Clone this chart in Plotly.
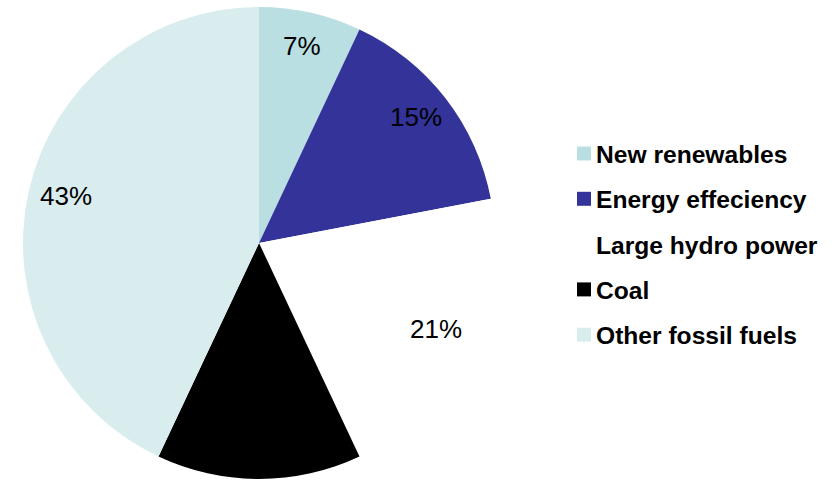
import numpy as np
import plotly.graph_objects as go

# ---- data ----
labels = ["New renewables", "Energy effeciency", "Large hydro power", "Coal", "Other fossil fuels"]
values = [7, 15, 21, 14, 43]
colors = ["#B9DFE2", "#333399", "#FFFFFF", "#000000", "#D9EDEF"]

W, H = 838, 482
cx, cy, r = 259, 243, 236  # pie centre / radius in pixels

fig = go.Figure(go.Pie(
    labels=labels, values=values, sort=False, direction="clockwise", rotation=0,
    marker=dict(colors=colors, line=dict(width=0)),
    textinfo="none", hoverinfo="label+percent", showlegend=False,
    domain=dict(x=[(cx - r) / W, (cx + r) / W], y=[(H - cy - r) / H, (H - cy + r) / H]),
))

# percentage labels placed along each slice bisector
vals = np.array(values, dtype=float)
fr = vals / vals.sum()
mid = (np.cumsum(fr) - fr / 2) * 2 * np.pi
annotations = []
for f, a in zip(fr, mid):
    px = cx + 0.84 * r * np.sin(a)
    py = cy - 0.84 * r * np.cos(a) - 4
    annotations.append(dict(
        x=px / W, y=1 - py / H, xref="paper", yref="paper", showarrow=False,
        text=f"{round(f * 100):.0f}%", xanchor="center", yanchor="middle",
        font=dict(family="Arial, Liberation Sans", size=26, color="#000000"),
    ))

# legend (drawn manually to match spacing)
shapes = []
leg_x, leg_y0, leg_gap, sq = 577, 153.5, 45.3, 14
for i, (lab, col) in enumerate(zip(labels, colors)):
    yy = leg_y0 + i * leg_gap
    shapes.append(dict(type="rect", xref="paper", yref="paper",
                       x0=leg_x / W, x1=(leg_x + sq) / W,
                       y0=1 - (yy + sq / 2) / H, y1=1 - (yy - sq / 2) / H,
                       fillcolor=col, line=dict(width=0)))
    annotations.append(dict(
        x=(leg_x + sq + 3) / W, y=1 - (yy + 1) / H, xref="paper", yref="paper",
        showarrow=False, text=lab, xanchor="left", yanchor="middle",
        font=dict(family="Arial, Liberation Sans", size=24.6, color="#000000", weight="bold"),
    ))

fig.update_layout(
    width=W, height=H, margin=dict(l=0, r=0, t=0, b=0),
    paper_bgcolor="white", plot_bgcolor="white",
    annotations=annotations, shapes=shapes, showlegend=False,
)
fig.write_html("out.html")
